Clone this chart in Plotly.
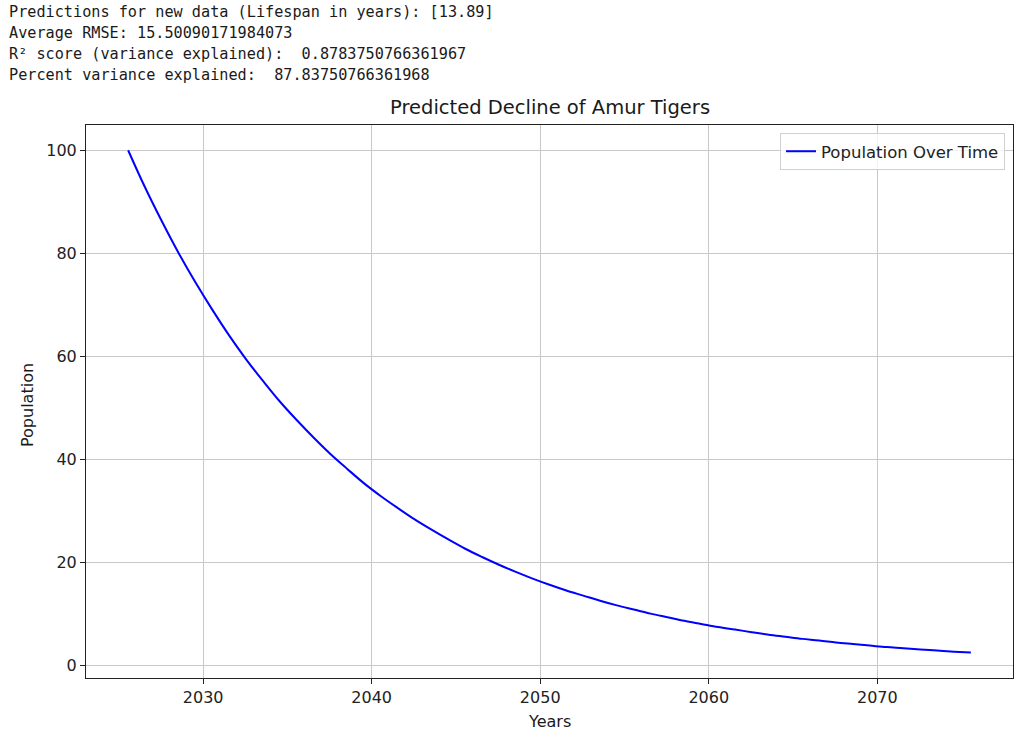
import plotly.graph_objects as go

# Data (estimated)
years = [2025.55 + i for i in range(51)]
population = [100.0, 92.8, 86.2, 80.0, 74.3, 69.0, 64.0, 59.4, 55.2, 51.2,
              47.6, 44.2, 41.0, 38.1, 35.3, 32.8, 30.5, 28.3, 26.3, 24.4,
              22.6, 21.0, 19.5, 18.1, 16.8, 15.6, 14.5, 13.5, 12.5, 11.6,
              10.8, 10.0, 9.3, 8.6, 8.0, 7.4, 6.9, 6.4, 5.9, 5.5,
              5.1, 4.8, 4.4, 4.1, 3.8, 3.5, 3.3, 3.05, 2.83, 2.62, 2.44]
x_ticks = [2030, 2040, 2050, 2060, 2070]
y_ticks = [0, 20, 40, 60, 80, 100]
console_lines = [
    "Predictions for new data (Lifespan in years): [13.89]",
    "Average RMSE: 15.50090171984073",
    "R\u00b2 score (variance explained):  0.8783750766361967",
    "Percent variance explained:  87.83750766361968",
]

W, H = 1024, 739
L, R, T, B = 86, 1013, 125, 678
pw, ph = R - L, B - T

def px(x):
    return (x - L) / pw

def py(y):
    return (B - y) / ph

fig = go.Figure()
fig.add_trace(go.Scatter(x=years, y=population, mode="lines",
                         name="Population Over Time",
                         line=dict(color="#0000ff", width=2, shape="spline", smoothing=1.0)))

annotations = []
for i, line in enumerate(console_lines):
    annotations.append(dict(text=line, x=px(7), y=py(12 + 21 * i), xref="paper", yref="paper",
                            xanchor="left", yanchor="middle", showarrow=False,
                            font=dict(family="DejaVu Sans Mono", size=15.2, color="#1a1a1a")))
annotations.append(dict(text="Predicted Decline of Amur Tigers", x=0.5, y=py(108),
                        xref="paper", yref="paper", xanchor="center", yanchor="middle",
                        showarrow=False, font=dict(family="DejaVu Sans", size=19.5, color="#1a1a1a")))
annotations.append(dict(text="Years", x=0.5, y=py(721), xref="paper", yref="paper",
                        xanchor="center", yanchor="middle", showarrow=False,
                        font=dict(family="DejaVu Sans", size=16, color="#1a1a1a")))
annotations.append(dict(text="Population", x=px(27), y=py(405), xref="paper", yref="paper",
                        xanchor="center", yanchor="middle", showarrow=False, textangle=-90,
                        font=dict(family="DejaVu Sans", size=16, color="#1a1a1a")))

axis_common = dict(showline=True, mirror=True, linecolor="#222", linewidth=1,
                   ticks="outside", ticklen=5, tickcolor="#222", tickwidth=1,
                   showgrid=True, gridcolor="#c8c8c8", gridwidth=1, zeroline=False,
                   tickfont=dict(family="DejaVu Sans", size=16, color="#222"))

fig.update_layout(
    width=W, height=H,
    margin=dict(l=L, r=W - R, t=T, b=H - B),
    paper_bgcolor="white", plot_bgcolor="white",
    xaxis=dict(range=[2023.05, 2078.05], tickvals=x_ticks, **axis_common),
    yaxis=dict(range=[-2.5, 104.9], tickvals=y_ticks, **axis_common),
    showlegend=True,
    legend=dict(x=px(1005), y=py(133), xanchor="right", yanchor="top",
                bgcolor="rgba(255,255,255,0.8)", bordercolor="#d0d0d0", borderwidth=1,
                font=dict(family="DejaVu Sans", size=16.5, color="#222")),
    annotations=annotations,
)

fig.write_html("out.html",
               config={"displayModeBar": False},
               post_script="document.body.style.margin='0';document.body.style.overflow='hidden';")
